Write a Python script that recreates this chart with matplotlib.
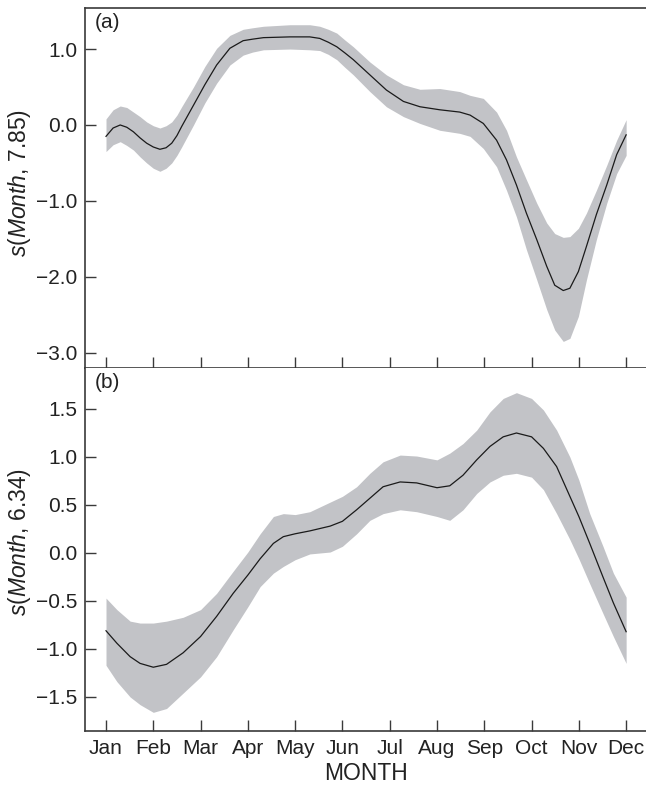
import numpy as np
import matplotlib
matplotlib.use("Agg")
import matplotlib.pyplot as plt

plt.rcParams['font.family'] = ['Liberation Sans', 'DejaVu Sans']
plt.rcParams['mathtext.fontset'] = 'custom'
plt.rcParams['mathtext.rm'] = 'Liberation Sans'
plt.rcParams['mathtext.it'] = 'Liberation Sans:italic'

month_names = ["Jan", "Feb", "Mar", "Apr", "May", "Jun",
               "Jul", "Aug", "Sep", "Oct", "Nov", "Dec"]

# (a) smooth term for Month, edf 7.85
month_a = [1.0, 1.15, 1.30, 1.44, 1.58, 1.72, 1.86, 2.0, 2.14, 2.27, 2.39, 2.50, 2.60,
           2.85, 3.09, 3.34, 3.62, 3.90, 4.10, 4.33, 4.89, 5.31, 5.52, 5.70, 5.88,
           6.05, 6.23, 6.58, 6.93, 7.29, 7.64, 8.06, 8.48, 8.70, 8.98, 9.26, 9.47,
           9.68, 9.89, 10.11, 10.32, 10.49, 10.67, 10.81, 10.99, 11.16, 11.37, 11.59,
           11.80, 12.0]
fit_a = [-0.15, -0.04, 0.0, -0.03, -0.09, -0.17, -0.24, -0.29, -0.32, -0.30, -0.24,
         -0.14, -0.02, 0.26, 0.53, 0.79, 1.01, 1.11, 1.13, 1.15, 1.16, 1.16, 1.14,
         1.09, 1.03, 0.95, 0.86, 0.66, 0.46, 0.31, 0.24, 0.20, 0.17, 0.13, 0.02,
         -0.20, -0.46, -0.79, -1.16, -1.51, -1.86, -2.11, -2.18, -2.15, -1.93, -1.60,
         -1.18, -0.79, -0.39, -0.13]
upper_a = [0.08, 0.20, 0.25, 0.23, 0.17, 0.11, 0.04, -0.01, -0.04, -0.01, 0.04, 0.13,
           0.24, 0.50, 0.77, 1.01, 1.18, 1.26, 1.28, 1.30, 1.32, 1.32, 1.30, 1.26,
           1.21, 1.12, 1.03, 0.83, 0.66, 0.53, 0.47, 0.48, 0.44, 0.39, 0.35, 0.17,
           -0.07, -0.42, -0.72, -1.03, -1.29, -1.43, -1.48, -1.47, -1.36, -1.16, -0.86,
           -0.53, -0.20, 0.07]
lower_a = [-0.35, -0.26, -0.22, -0.27, -0.33, -0.42, -0.50, -0.57, -0.61, -0.57, -0.50,
           -0.40, -0.29, 0.0, 0.29, 0.55, 0.79, 0.92, 0.96, 0.99, 1.00, 0.99, 0.98,
           0.93, 0.86, 0.76, 0.66, 0.44, 0.24, 0.11, 0.02, -0.07, -0.11, -0.15, -0.31,
           -0.55, -0.86, -1.21, -1.64, -2.04, -2.43, -2.70, -2.85, -2.81, -2.52, -2.04,
           -1.51, -1.03, -0.64, -0.40]

# (b) smooth term for Month, edf 6.34
month_b = [1.0, 1.23, 1.51, 1.72, 2.0, 2.28, 2.63, 3.0, 3.34, 3.69, 4.0, 4.26, 4.54,
           4.75, 5.0, 5.31, 5.74, 6.0, 6.30, 6.58, 6.86, 7.22, 7.57, 8.0, 8.27, 8.55,
           8.84, 9.12, 9.40, 9.68, 10.0, 10.25, 10.53, 10.81, 11.0, 11.23, 11.51,
           11.73, 12.0]
fit_b = [-0.81, -0.94, -1.08, -1.15, -1.19, -1.16, -1.04, -0.87, -0.66, -0.42, -0.23,
         -0.06, 0.10, 0.17, 0.20, 0.23, 0.28, 0.33, 0.45, 0.57, 0.69, 0.74, 0.73, 0.68,
         0.70, 0.81, 0.97, 1.11, 1.21, 1.25, 1.21, 1.09, 0.90, 0.59, 0.38, 0.10, -0.25,
         -0.52, -0.82]
upper_b = [-0.47, -0.59, -0.71, -0.73, -0.73, -0.71, -0.67, -0.59, -0.42, -0.19, 0.01,
           0.20, 0.38, 0.41, 0.40, 0.43, 0.53, 0.59, 0.69, 0.83, 0.95, 1.02, 1.01, 0.97,
           1.04, 1.14, 1.28, 1.47, 1.61, 1.67, 1.61, 1.49, 1.28, 1.00, 0.76, 0.41, 0.07,
           -0.21, -0.46]
lower_b = [-1.17, -1.34, -1.50, -1.58, -1.66, -1.62, -1.46, -1.29, -1.08, -0.80, -0.56,
           -0.35, -0.21, -0.14, -0.07, -0.01, 0.01, 0.07, 0.20, 0.34, 0.41, 0.45, 0.43,
           0.38, 0.34, 0.45, 0.62, 0.74, 0.81, 0.83, 0.79, 0.66, 0.41, 0.14, -0.06, -0.32,
           -0.63, -0.87, -1.15]

band_color = "#c2c3c7"
spine_color = "#3a3a3a"


def fmt(v):
    return ("%.1f" % v).replace("-", "\u2212")


fig = plt.figure(figsize=(6.46, 7.87), dpi=100)
ax_a = fig.add_axes([0.1316, 0.5324, 0.8684, 0.4574])
ax_b = fig.add_axes([0.1316, 0.0712, 0.8684, 0.4612])

panels = [
    (ax_a, month_a, fit_a, upper_a, lower_a, (-3.2, 1.54), [1.0, 0.0, -1.0, -2.0, -3.0], "7.85", "(a)"),
    (ax_b, month_b, fit_b, upper_b, lower_b, (-1.854, 1.927), [1.5, 1.0, 0.5, 0.0, -0.5, -1.0, -1.5], "6.34", "(b)"),
]

for ax, m, fit, up, lo, ylim, yticks, edf, tag in panels:
    ax.fill_between(m, lo, up, color=band_color, linewidth=0)
    ax.plot(m, fit, color="#1a1a1a", linewidth=0.9)
    ax.set_xlim(0.556, 12.42)
    ax.set_ylim(*ylim)
    ax.set_yticks(yticks)
    ax.set_yticklabels([fmt(v) for v in yticks])
    ax.set_xticks(range(1, 13))
    ax.tick_params(direction="in", length=8, width=1.0, color=spine_color,
                   labelsize=15, labelcolor="#222222", pad=5.5)
    ax.spines["right"].set_visible(False)
    for s in ["left", "bottom", "top"]:
        ax.spines[s].set_color(spine_color)
        ax.spines[s].set_linewidth(1.2)
    ax.set_ylabel(r"$s$($Month$, " + edf + ")", fontsize=16.5, color="#222222")
    ax.text(0.017, 0.985, tag, transform=ax.transAxes, fontsize=15,
            ha="left", va="top", color="#222222")

ax_a.yaxis.set_label_coords(-0.093, 0.514)
ax_b.yaxis.set_label_coords(-0.093, 0.52)
ax_a.tick_params(axis="x", labelbottom=False)
ax_b.spines["top"].set_visible(False)
ax_b.set_xticklabels(month_names)
ax_b.set_xlabel("MONTH", fontsize=16.5, color="#222222", labelpad=3)

fig.savefig("out.png", dpi=100)
